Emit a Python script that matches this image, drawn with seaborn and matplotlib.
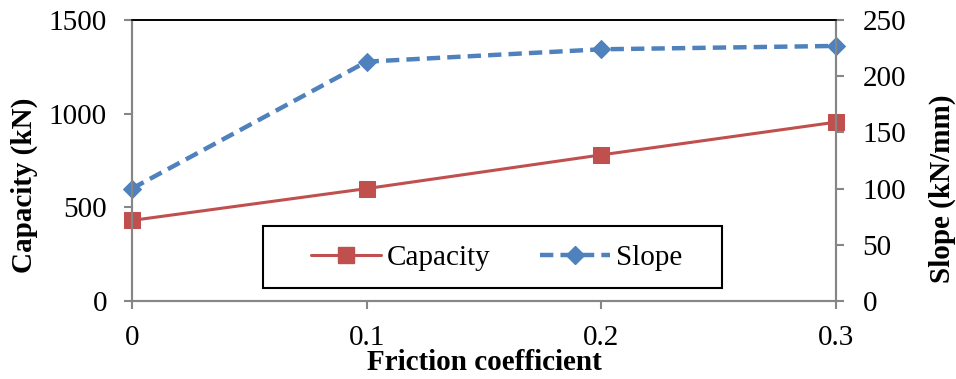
import pandas as pd
import matplotlib.pyplot as plt
import seaborn as sns
from matplotlib.lines import Line2D
from matplotlib.patches import Rectangle

sns.set_style("white")
plt.rcParams['font.family'] = ['Liberation Serif', 'DejaVu Serif']
plt.rcParams['text.color'] = 'black'
plt.rcParams['axes.labelcolor'] = 'black'

friccao = [0, 0.1, 0.2, 0.3]
capacidade = [430, 600, 780, 955]
inclinacao = [100, 213, 224, 227]

vermelho = '#C0504D'
azul = '#4F81BD'
cinza = '#868686'

dados = pd.DataFrame({'friccao': friccao, 'capacidade': capacidade, 'inclinacao': inclinacao})

fig = plt.figure(figsize=(9.56, 3.79), dpi=100)
ax = fig.add_axes([0.138, 0.206, 0.7365, 0.741])
ax2 = ax.twinx()

sns.lineplot(data=dados, x='friccao', y='capacidade', ax=ax, color=vermelho, linewidth=2.2,
             marker='s', markersize=11, markeredgecolor=vermelho, label='Capacity', legend=False)
sns.lineplot(data=dados, x='friccao', y='inclinacao', ax=ax2, color=azul, linewidth=3.2,
             linestyle=(0, (3, 1.6)), marker='D', markersize=9, markeredgecolor=azul,
             label='Slope', legend=False)

ax.set_xlim(0, 0.3)
ax2.set_xlim(0, 0.3)
ax.set_ylim(0, 1500)
ax2.set_ylim(0, 250)
ax.set_xticks(friccao)
ax.set_xticklabels(['0', '0.1', '0.2', '0.3'])
ax.set_yticks([0, 500, 1000, 1500])
ax2.set_yticks([0, 50, 100, 150, 200, 250])

for eixo in (ax, ax2):
    for lado in ('left', 'right', 'bottom'):
        eixo.spines[lado].set_color(cinza)
        eixo.spines[lado].set_linewidth(1.5)
    eixo.spines['top'].set_color('black')
    eixo.spines['top'].set_linewidth(1.2)
    eixo.tick_params(axis='both', which='major', direction='out', length=6, width=1.5,
                     color=cinza, labelcolor='black', labelsize=21)
ax.tick_params(axis='x', pad=11, bottom=True)
ax.tick_params(axis='y', pad=12, left=True)
ax2.tick_params(axis='y', pad=13, right=True)

ax.set_xlabel('Friction coefficient', fontsize=21, weight='bold', labelpad=-1)
ax.set_ylabel('Capacity (kN)', fontsize=21, weight='bold')
ax2.set_ylabel('Slope (kN/mm)', fontsize=21, weight='bold')
ax.yaxis.set_label_coords(-0.134, 0.41)
ax2.yaxis.set_label_coords(1.131, 0.40)

for linha in ax.lines + ax2.lines:
    linha.set_clip_on(False)

# caixa da legenda desenhada a parte (estilo Excel)
caixa = Rectangle((0.186, 0.046), 0.652, 0.221, transform=ax2.transAxes, facecolor='white',
                  edgecolor='black', linewidth=1.5, zorder=5)
ax2.add_patch(caixa)

alcas = [
    Line2D([], [], color=vermelho, linewidth=2.2, marker='s', markersize=11),
    Line2D([], [], color=azul, linewidth=3.2, linestyle=(0, (3, 1.6)), marker='D', markersize=9),
]
leg = ax2.legend(alcas, ['Capacity', 'Slope'], ncol=2, loc='center',
                 bbox_to_anchor=(0.518, 0.153), fontsize=21, frameon=False,
                 handlelength=2.4, columnspacing=1.7, handletextpad=0.2, borderpad=0)
leg.set_zorder(6)

fig.savefig('out.png', dpi=100)
